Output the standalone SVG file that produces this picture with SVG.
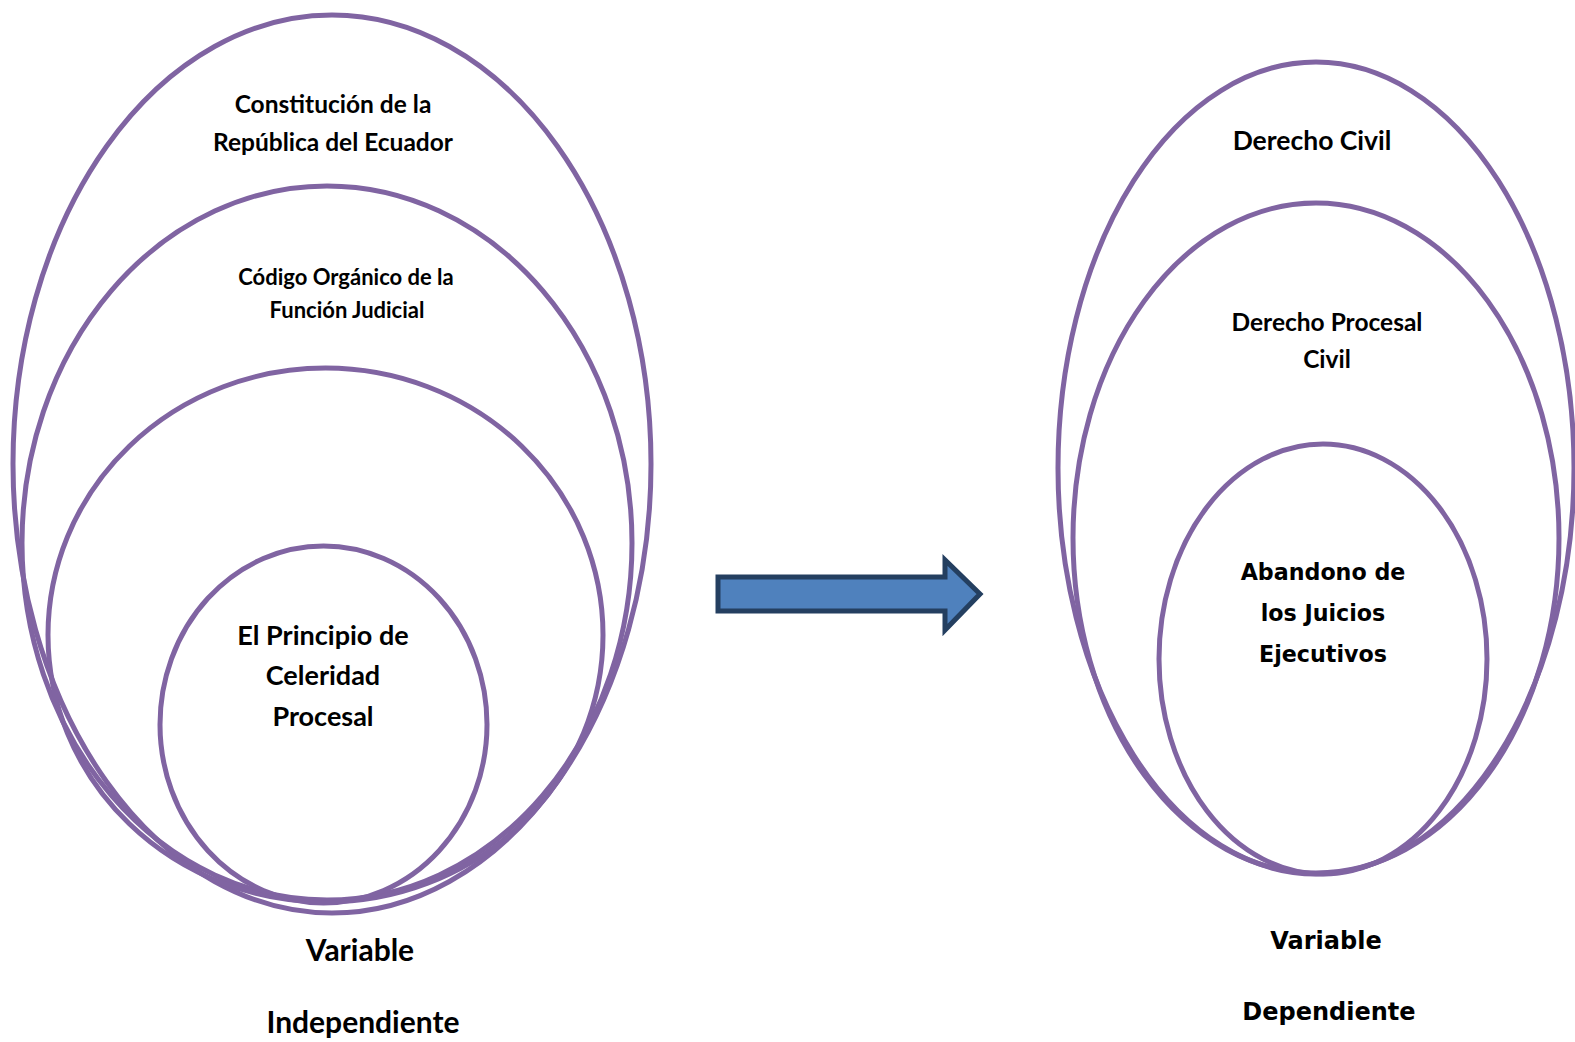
<svg xmlns="http://www.w3.org/2000/svg" width="1575" height="1042" viewBox="0 0 1575 1042">
<style>
.e{fill:none;stroke:#8064A2;stroke-width:5}
.t{font-family:Lato,"Liberation Sans",sans-serif;font-weight:bold;fill:#000;text-anchor:middle}
.w{font-family:"DejaVu Sans","Liberation Sans",sans-serif;font-weight:bold;fill:#000;text-anchor:middle}
</style>
<rect width="1575" height="1042" fill="#fff"/>
<g id="constitucion">
<ellipse class="e" cx="332" cy="464" rx="319" ry="449"/>
<text class="t" x="333" y="113" font-size="24.5">Constitución de la</text>
<text class="t" x="333" y="151" font-size="24.5">República del Ecuador</text>
</g>
<g id="codigo">
<ellipse class="e" cx="327" cy="543" rx="305" ry="357"/>
<text class="t" x="346" y="285" font-size="22">Código Orgánico de la</text>
<text class="t" x="347" y="318" font-size="22">Función Judicial</text>
</g>
<g id="mid-left">
<ellipse class="e" cx="325.5" cy="635" rx="277.5" ry="267"/>
</g>
<g id="celeridad">
<ellipse class="e" cx="323.5" cy="724.5" rx="163.5" ry="178.5"/>
<text class="t" x="323" y="645" font-size="27">El Principio de</text>
<text class="t" x="323" y="685" font-size="27">Celeridad</text>
<text class="t" x="323" y="726" font-size="27">Procesal</text>
</g>
<g id="var-indep">
<text class="t" x="360" y="961" font-size="30">Variable</text>
<text class="t" x="363" y="1033" font-size="30">Independiente</text>
</g>
<g id="derecho-civil">
<ellipse class="e" cx="1316" cy="468" rx="258" ry="406"/>
<text class="t" x="1312" y="150" font-size="26.5">Derecho Civil</text>
</g>
<g id="derecho-procesal">
<ellipse class="e" cx="1316" cy="538" rx="243" ry="335"/>
<text class="t" x="1327" y="331" font-size="24.5">Derecho Procesal</text>
<text class="t" x="1327" y="368" font-size="24.5">Civil</text>
</g>
<g id="abandono">
<ellipse class="e" cx="1323" cy="659" rx="164" ry="215"/>
<text class="w" x="1323" y="580" font-size="22.2">Abandono de</text>
<text class="w" x="1323" y="621" font-size="22.2">los Juicios</text>
<text class="w" x="1323" y="662" font-size="22.2">Ejecutivos</text>
</g>
<g id="var-dep">
<text class="w" x="1326" y="949" font-size="24">Variable</text>
<text class="w" x="1329" y="1020" font-size="24">Dependiente</text>
</g>
<g id="connectors">
<path d="M718 577 H945 V560 L980 594 L945 630 V611 H718 Z" fill="#4F81BD" stroke="#243F60" stroke-width="5" stroke-linejoin="miter"/>
</g>
</svg>
